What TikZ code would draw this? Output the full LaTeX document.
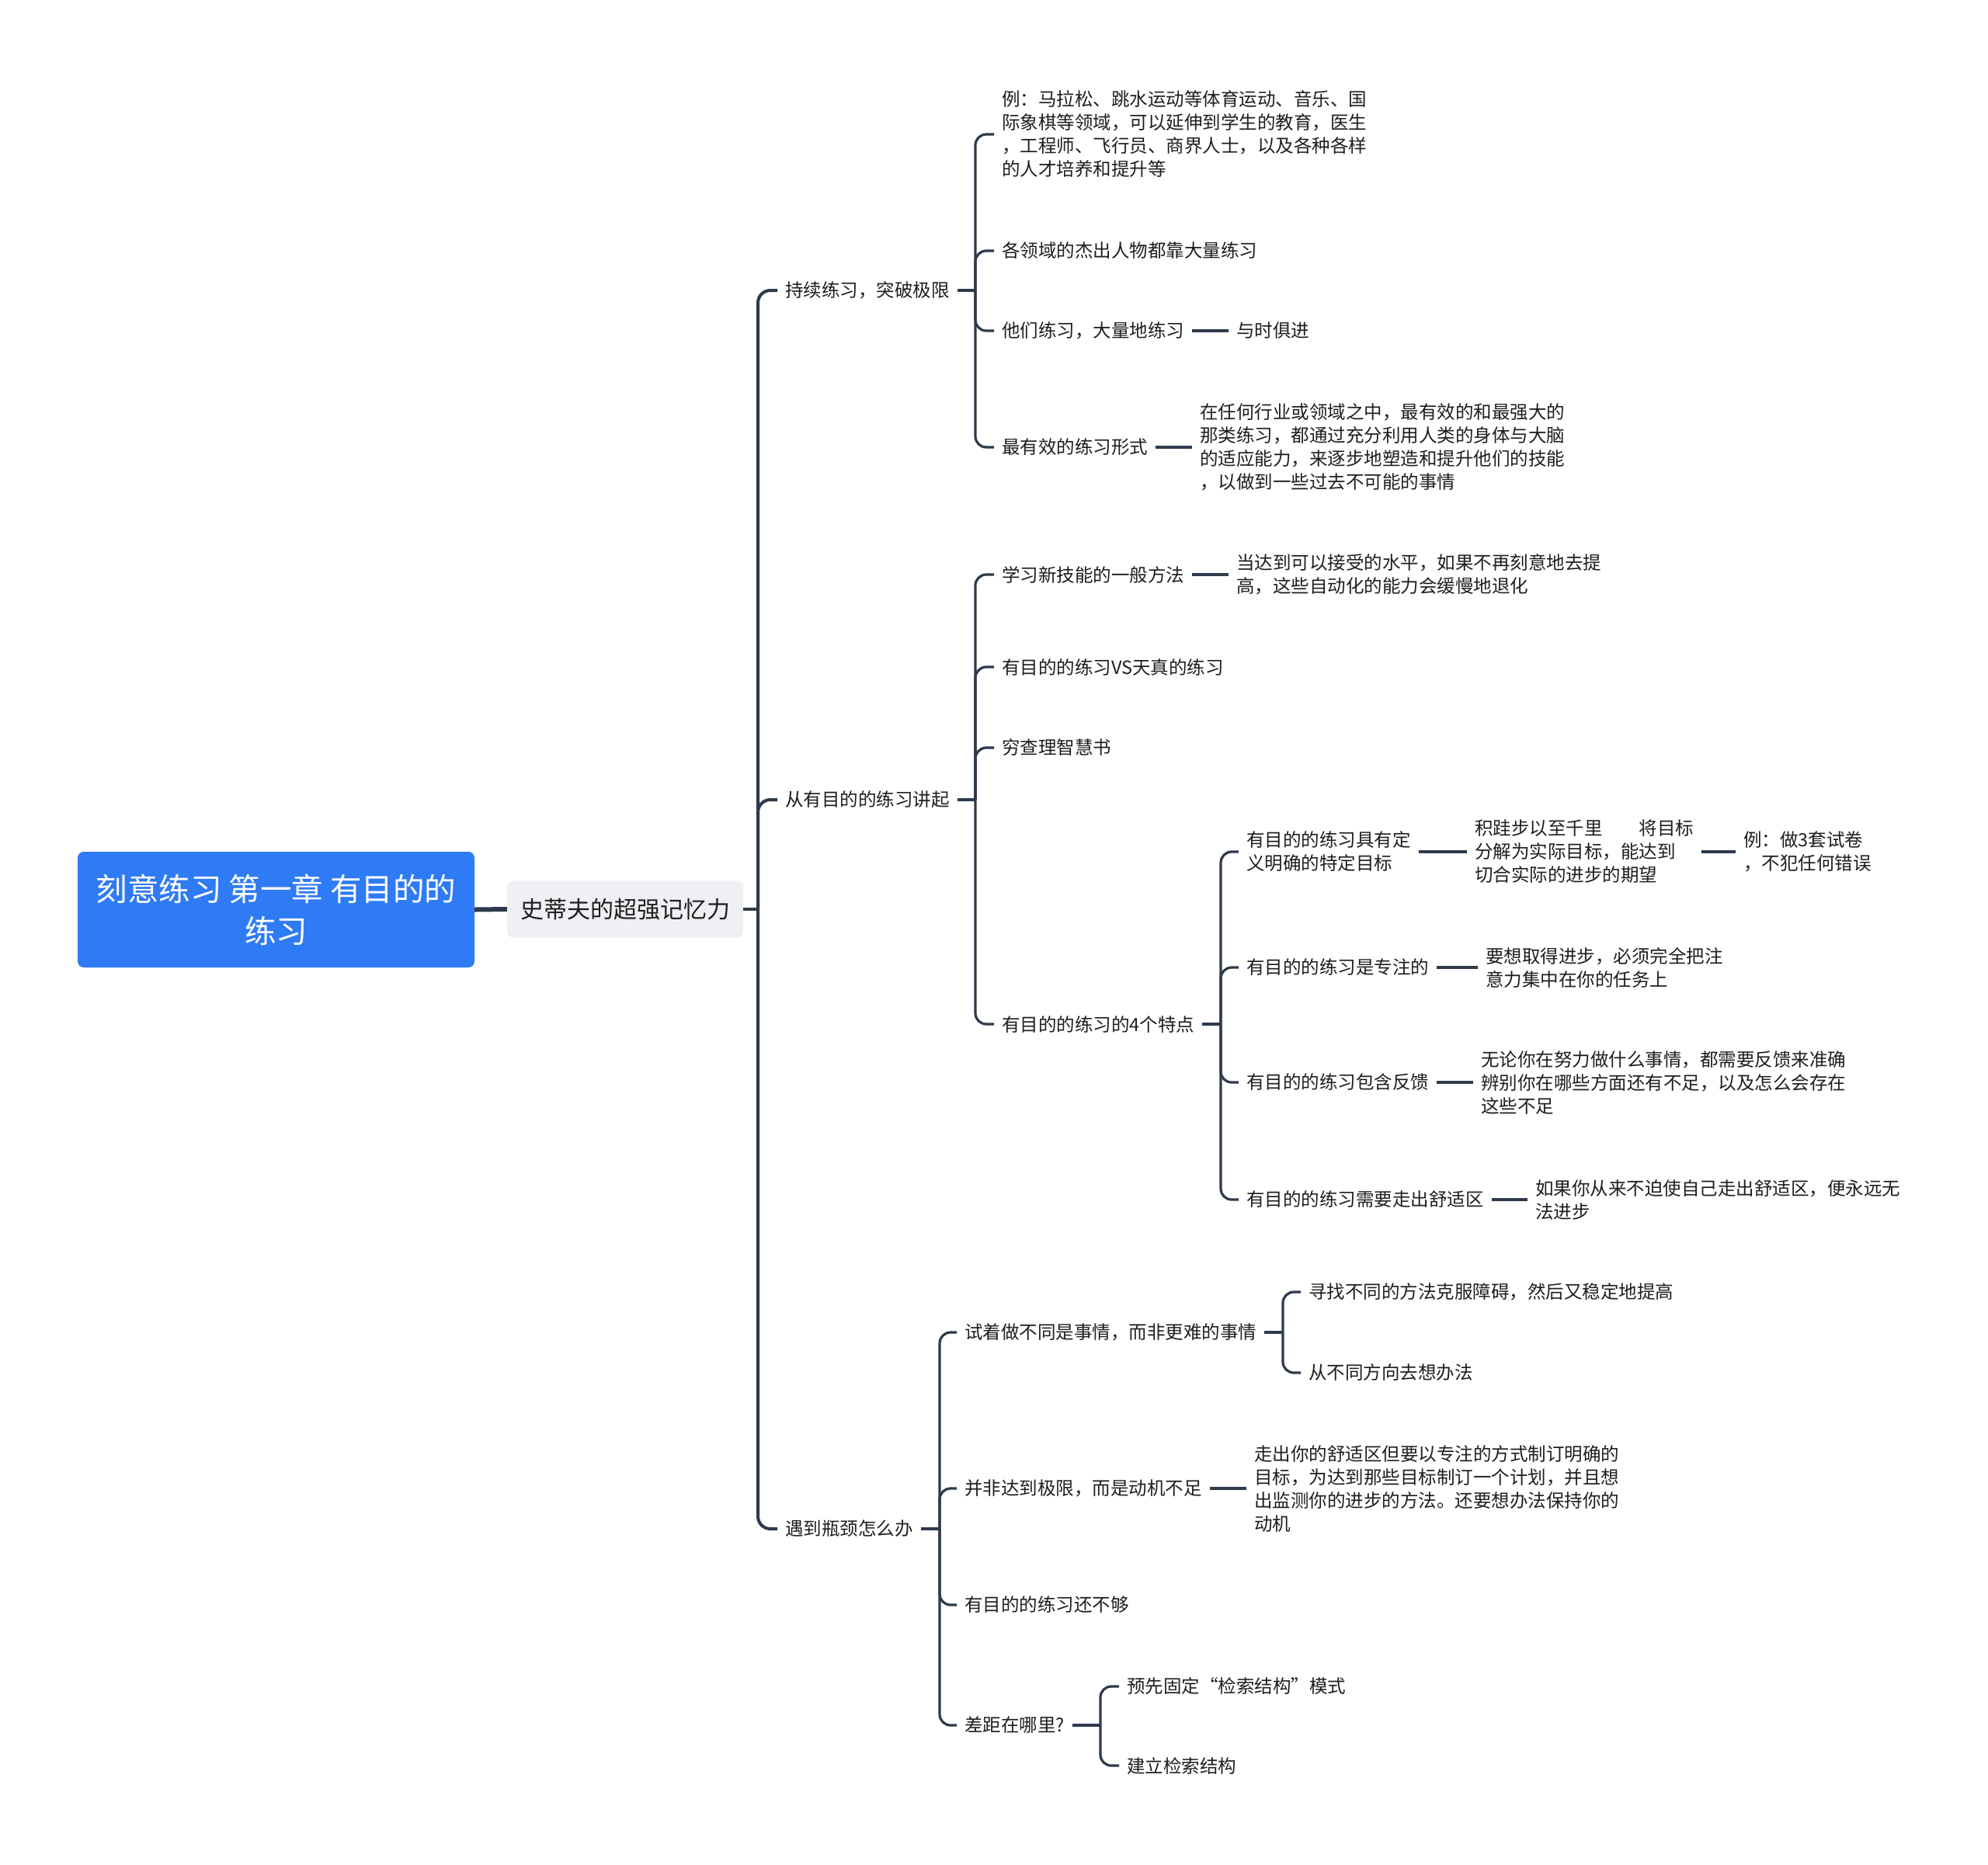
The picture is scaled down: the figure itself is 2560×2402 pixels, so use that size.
\documentclass[tikz,border=0pt]{standalone}
\usepackage{fontspec}
\setmainfont{Noto Sans CJK SC}
\usetikzlibrary{positioning}
\definecolor{Canvas}{HTML}{FFFFFF}
\definecolor{RootBlue}{HTML}{2F7BF5}
\definecolor{TopicGray}{HTML}{EEF0F3}
\definecolor{Ink}{HTML}{1E1E1E}
\definecolor{Branch}{HTML}{2E3A4C}

\begin{document}
\begin{tikzpicture}[
  x=1pt, y=-1pt,
  rootbox/.style={
    rectangle,
    rounded corners=8pt,
    fill=RootBlue,
    text=white,
    align=center,
    minimum width=511pt,
    minimum height=149pt,
    font=\fontsize{40.5}{54}\selectfont
  },
  mainbox/.style={
    rectangle,
    rounded corners=8pt,
    fill=TopicGray,
    text=Ink,
    minimum width=304pt,
    minimum height=73pt,
    font=\fontsize{30}{36}\selectfont
  },
  topic/.style={
    anchor=west,
    align=left,
    text=Ink,
    inner xsep=10pt,
    inner ysep=3pt,
    font=\fontsize{23.5}{30}\selectfont
  },
  link/.style={
    draw=Branch,
    line width=3.2pt,
    rounded corners=14pt
  },
  trunk/.style={
    draw=Branch,
    line width=4pt,
    rounded corners=16pt
  }
]

\fill[Canvas] (0,0) rectangle (2560,2402);

\node[rootbox] (root) at (355.5,1171.5) {刻意练习 第一章 有目的的\\练习};
\node[mainbox] (steve) at (805,1171) {史蒂夫的超强记忆力};
\draw[draw=Branch, line width=6pt] (root.east) -- (steve.west);

\coordinate (jA) at (976,1171);
\draw[trunk] (steve.east) -- (jA);

\node[topic] (keep) at (1001,374) {持续练习，突破极限};
\node[topic] (start) at (1001,1030) {从有目的的练习讲起};
\node[topic] (stuck) at (1001,1969) {遇到瓶颈怎么办};
\draw[trunk] (jA) |- (keep.west);
\draw[trunk] (jA) |- (start.west);
\draw[trunk] (jA) |- (stuck.west);

% keep practising
\coordinate (jK) at (1256,374);
\draw[link] (keep.east) -- (jK);
\node[topic] (field) at (1280,173)
  {例：马拉松、跳水运动等体育运动、音乐、国\\际象棋等领域，可以延伸到学生的教育，医生\\，工程师、飞行员、商界人士，以及各种各样\\的人才培养和提升等};
\node[topic] (star) at (1280,323) {各领域的杰出人物都靠大量练习};
\node[topic] (much) at (1280,426) {他们练习，大量地练习};
\node[topic] (form) at (1280,576) {最有效的练习形式};
\node[topic] (times) at (1582,426) {与时俱进};
\node[topic] (formtxt) at (1535,576)
  {在任何行业或领域之中，最有效的和最强大的\\那类练习，都通过充分利用人类的身体与大脑\\的适应能力，来逐步地塑造和提升他们的技能\\，以做到一些过去不可能的事情};
\draw[link] (jK) |- (field.west);
\draw[link] (jK) |- (star.west);
\draw[link] (jK) |- (much.west);
\draw[link] (jK) |- (form.west);
\draw[link] (much.east) -- (times.west);
\draw[link] (form.east) -- (formtxt.west);

% purposeful practice
\coordinate (jS) at (1256,1030);
\draw[link] (start.east) -- (jS);
\node[topic] (learn) at (1280,740) {学习新技能的一般方法};
\node[topic] (learntxt) at (1582,740)
  {当达到可以接受的水平，如果不再刻意地去提\\高，这些自动化的能力会缓慢地退化};
\node[topic] (naive) at (1280,859) {有目的的练习VS天真的练习};
\node[topic] (poor) at (1280,963) {穷查理智慧书};
\node[topic] (four) at (1280,1319) {有目的的练习的4个特点};
\draw[link] (jS) |- (learn.west);
\draw[link] (jS) |- (naive.west);
\draw[link] (jS) |- (poor.west);
\draw[link] (jS) |- (four.west);
\draw[link] (learn.east) -- (learntxt.west);

\coordinate (jF) at (1572,1319);
\draw[link] (four.east) -- (jF);
\node[topic] (goal) at (1595,1097) {有目的的练习具有定\\义明确的特定目标};
\node[topic] (goaltxt) at (1889,1097)
  {积跬步以至千里\hspace{2em}将目标\\分解为实际目标，能达到\\切合实际的进步的期望};
\node[topic] (goalex) at (2235,1097) {例：做3套试卷\\，不犯任何错误};
\node[topic] (focus) at (1595,1246) {有目的的练习是专注的};
\node[topic] (focustxt) at (1903,1246)
  {要想取得进步，必须完全把注\\意力集中在你的任务上};
\node[topic] (feed) at (1595,1394) {有目的的练习包含反馈};
\node[topic] (feedtxt) at (1897,1394)
  {无论你在努力做什么事情，都需要反馈来准确\\辨别你在哪些方面还有不足，以及怎么会存在\\这些不足};
\node[topic] (comfort) at (1595,1545) {有目的的练习需要走出舒适区};
\node[topic] (comforttxt) at (1967,1545)
  {如果你从来不迫使自己走出舒适区，便永远无\\法进步};
\draw[link] (jF) |- (goal.west);
\draw[link] (jF) |- (focus.west);
\draw[link] (jF) |- (feed.west);
\draw[link] (jF) |- (comfort.west);
\draw[link] (goal.east) -- (goaltxt.west);
\draw[link] (goaltxt.east) -- (goalex.west);
\draw[link] (focus.east) -- (focustxt.west);
\draw[link] (feed.east) -- (feedtxt.west);
\draw[link] (comfort.east) -- (comforttxt.west);

% bottleneck
\coordinate (jB) at (1210,1969);
\draw[link] (stuck.east) -- (jB);
\node[topic] (diff) at (1232,1716) {试着做不同是事情，而非更难的事情};
\node[topic] (motive) at (1232,1917) {并非达到极限，而是动机不足};
\node[topic] (motivetxt) at (1605,1917)
  {走出你的舒适区但要以专注的方式制订明确的\\目标，为达到那些目标制订一个计划，并且想\\出监测你的进步的方法。还要想办法保持你的\\动机};
\node[topic] (enough) at (1232,2067) {有目的的练习还不够};
\node[topic] (gap) at (1232,2222) {差距在哪里?};
\draw[link] (jB) |- (diff.west);
\draw[link] (jB) |- (motive.west);
\draw[link] (jB) |- (enough.west);
\draw[link] (jB) |- (gap.west);
\draw[link] (motive.east) -- (motivetxt.west);

\coordinate (jD) at (1652,1716);
\draw[link] (diff.east) -- (jD);
\node[topic] (other) at (1675,1664) {寻找不同的方法克服障碍，然后又稳定地提高};
\node[topic] (dir) at (1675,1768) {从不同方向去想办法};
\draw[link] (jD) |- (other.west);
\draw[link] (jD) |- (dir.west);

\coordinate (jG) at (1417,2222);
\draw[link] (gap.east) -- (jG);
\node[topic] (fix) at (1441,2172) {预先固定“检索结构”模式};
\node[topic] (build) at (1441,2274) {建立检索结构};
\draw[link] (jG) |- (fix.west);
\draw[link] (jG) |- (build.west);

\end{tikzpicture}
\end{document}
